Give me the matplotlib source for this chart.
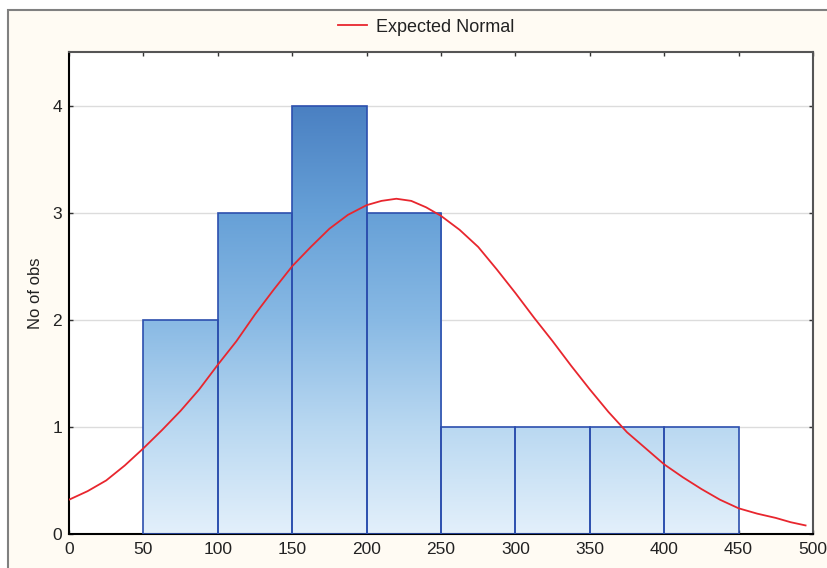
import numpy as np
import matplotlib
matplotlib.use("Agg")
from matplotlib import pyplot as plt
from matplotlib.colors import LinearSegmentedColormap
from matplotlib.patches import Rectangle

plt.rcParams['font.family'] = ['Liberation Sans', 'DejaVu Sans']

# histogram bins and counts
bin_left = [50, 100, 150, 200, 250, 300, 350, 400]
bin_width = 50
counts = [2, 3, 4, 3, 1, 1, 1, 1]

# expected normal curve
curve_x = [0, 12.5, 25, 37.5, 50, 62.5, 75, 87.5, 100, 112.5, 125, 137.5,
           150, 162.5, 175, 187.5, 200, 210, 220, 230, 240, 250, 262.5,
           275, 287.5, 300, 312.5, 325, 337.5, 350, 362.5, 375, 387.5,
           400, 412.5, 425, 437.5, 450, 462.5, 475, 485, 495]
curve_y = [0.32, 0.40, 0.50, 0.64, 0.80, 0.97, 1.15, 1.35, 1.58, 1.80, 2.05, 2.28,
           2.50, 2.68, 2.85, 2.98, 3.07, 3.11, 3.13, 3.11, 3.05, 2.97, 2.84,
           2.68, 2.47, 2.25, 2.02, 1.80, 1.57, 1.35, 1.14, 0.95, 0.80,
           0.65, 0.53, 0.42, 0.32, 0.24, 0.19, 0.15, 0.11, 0.08]

xticks = [0, 50, 100, 150, 200, 250, 300, 350, 400, 450, 500]
yticks = [0, 1, 2, 3, 4]

fig = plt.figure(figsize=(8.28, 5.68), dpi=100)
fig.patch.set_facecolor('white')
# cream frame
fig.patches.append(Rectangle((8/828, -0.02), 1.2, 1 - 10/568 + 0.02,
                             transform=fig.transFigure, facecolor='#fffbf3',
                             edgecolor='#808080', lw=1.5, zorder=-10))

ax = fig.add_axes([69/828, 34/568, (813-69)/828, (534-52)/568])
ax.set_facecolor('white')

# gradient fill, over the y range 0..4
cmap = LinearSegmentedColormap.from_list('grad', [
    (0.0, '#e3f0fb'), (0.25, '#b9d8f1'), (0.5, '#88b9e4'),
    (0.75, '#66a0d7'), (1.0, '#4a80c2')])
grad = np.linspace(0, 1, 256).reshape(-1, 1)
for left, c in zip(bin_left, counts):
    bar = Rectangle((left, 0), bin_width, c, facecolor='none',
                    edgecolor='#2c4fae', lw=1.2, zorder=3)
    ax.add_patch(bar)
    im = ax.imshow(grad, cmap=cmap, origin='lower', aspect='auto',
                   extent=[0, 500, 0, 4], zorder=2, interpolation='bilinear')
    im.set_clip_path(bar)
ax.set_xlim(0, 500)
ax.set_ylim(0, 4.5)

line, = ax.plot(curve_x, curve_y, color='#e8262e', lw=1.3, zorder=4,
                label='Expected Normal')

ax.set_xticks(xticks)
ax.set_yticks(yticks)
ax.yaxis.grid(True, color='#dcdcdc', lw=1)
ax.set_axisbelow(True)
ax.tick_params(direction='in', top=True, right=True, length=3, width=1,
               colors='#333333', labelsize=12.5, labelcolor='#222222')
ax.tick_params(axis='x', pad=6)
ax.tick_params(axis='y', pad=5)
for s in ['left', 'bottom']:
    ax.spines[s].set_color('black')
    ax.spines[s].set_linewidth(1.5)
for s in ['top', 'right']:
    ax.spines[s].set_color('#555555')
    ax.spines[s].set_linewidth(1.5)

ax.set_ylabel('No of obs', fontsize=12, color='#222222', labelpad=7)

fig.legend(handles=[line], loc='center', bbox_to_anchor=(0.515, 1 - 27/568),
           frameon=False, fontsize=13, handlelength=1.6, handletextpad=0.5,
           labelcolor='#222222')

fig.savefig('out.png', dpi=100)
